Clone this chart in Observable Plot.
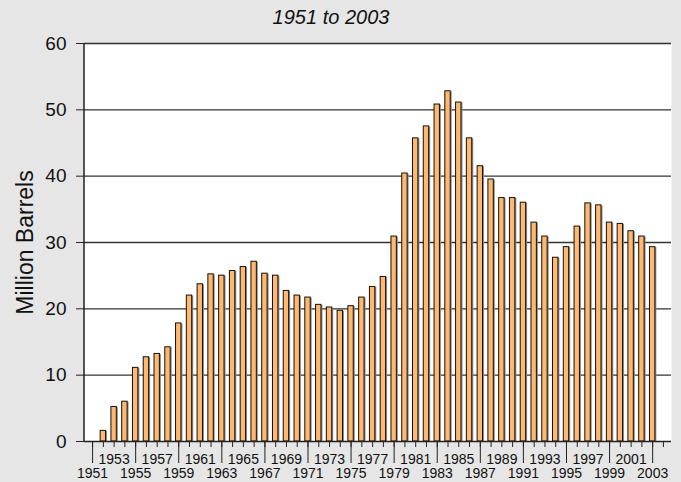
<!DOCTYPE html>
<html>
<head>
<meta charset="utf-8">
<script src="https://cdn.jsdelivr.net/npm/d3@7"></script>
<script src="https://cdn.jsdelivr.net/npm/@observablehq/plot@0.6"></script>
<style>
  html, body { margin: 0; padding: 0; background: #e6e6e6; }
  #chart { width: 681px; height: 482px; overflow: hidden; }
  svg { display: block; }
</style>
</head>
<body>
<div id="chart"></div>
<script>
// ---- data ----
const years = [1952,1953,1954,1955,1956,1957,1958,1959,1960,1961,1962,1963,1964,1965,1966,1967,1968,1969,1970,1971,1972,1973,1974,1975,1976,1977,1978,1979,1980,1981,1982,1983,1984,1985,1986,1987,1988,1989,1990,1991,1992,1993,1994,1995,1996,1997,1998,1999,2000,2001,2002,2003];
const barrels = [1.6,5.2,6.0,11.1,12.7,13.2,14.2,17.8,22.0,23.7,25.2,25.0,25.7,26.3,27.1,25.3,25.0,22.7,22.0,21.7,20.6,20.2,19.7,20.4,21.7,23.3,24.8,30.9,40.4,45.7,47.5,50.8,52.8,51.1,45.7,41.5,39.5,36.7,36.7,36.0,33.0,30.9,27.7,29.3,32.4,35.9,35.6,33.0,32.8,31.7,30.9,29.3];
const axisYears = [1951,1952,1953,1954,1955,1956,1957,1958,1959,1960,1961,1962,1963,1964,1965,1966,1967,1968,1969,1970,1971,1972,1973,1974,1975,1976,1977,1978,1979,1980,1981,1982,1983,1984,1985,1986,1987,1988,1989,1990,1991,1992,1993,1994,1995,1996,1997,1998,1999,2000,2001,2002,2003,2004];
const lowerLabels = [1951,1955,1959,1963,1967,1971,1975,1979,1983,1987,1991,1995,1999,2003];
const upperLabels = [1953,1957,1961,1965,1969,1973,1977,1981,1985,1989,1993,1997,2001];
const yTicks = [0,10,20,30,40,50,60];
const gridTicks = [10,20,30,40,50,60];
const title = "1951 to 2003";
const yLabel = "Million Barrels";

const data = years.map((y, i) => ({year: y, value: barrels[i]}));

const FONT = "'Liberation Sans', Arial, sans-serif";
const NARROW = "'Liberation Sans Narrow', 'Liberation Sans', Arial, sans-serif";

// left axis line drawn from frame dimensions
function leftLine(index, scales, values, dims) {
  const g = d3.create("svg:line")
    .attr("x1", dims.marginLeft).attr("x2", dims.marginLeft)
    .attr("y1", dims.marginTop).attr("y2", dims.height - dims.marginBottom)
    .attr("stroke", "#222").attr("stroke-width", 1.5);
  return g.node();
}

const chart = Plot.plot({
  width: 681,
  height: 482,
  marginLeft: 84,
  marginRight: 10,
  marginTop: 43,
  marginBottom: 41,
  style: {background: "#e6e6e6", fontFamily: FONT, color: "#111"},
  x: {type: "band", domain: axisYears, padding: 0.5, align: 0.5},
  y: {domain: [0, 60]},
  marks: [
    Plot.frame({fill: "white", stroke: null}),
    Plot.ruleY(gridTicks, {stroke: "#333", strokeWidth: 1.3}),
    Plot.barY(data, {x: "year", y: "value", fill: "#8c8c8c", dx: 1.5, dy: 0.5}),
    Plot.barY(data, {x: "year", y: "value", fill: "#ffb86e", stroke: "#111", strokeWidth: 1}),
    Plot.ruleY([0], {stroke: "#222", strokeWidth: 1.5}),
    leftLine,
    Plot.axisY({ticks: yTicks, tickSize: 8, tickPadding: 10, fontSize: 19, label: null, stroke: "#222"}),
    Plot.axisX({ticks: axisYears, tickSize: 6, tickFormat: () => "", label: null, stroke: "#222"}),
    Plot.axisX({ticks: lowerLabels, tickSize: 22, tickPadding: 5, fontSize: 14, fontFamily: NARROW, tickFormat: d => String(d), label: null, stroke: "#222"}),
    Plot.axisX({ticks: upperLabels, tickSize: 0, tickPadding: 13, fontSize: 14, fontFamily: NARROW, tickFormat: d => String(d), label: null}),
    Plot.text([yLabel], {frameAnchor: "left", dx: -59, rotate: -90, fontSize: 23, textAnchor: "middle", lineAnchor: "middle", fill: "#111"}),
    Plot.text([title], {frameAnchor: "top", dx: -47, dy: -26, fontSize: 20, fontStyle: "italic", textAnchor: "middle", lineAnchor: "middle", fill: "#111"})
  ]
});
document.getElementById("chart").appendChild(chart);
</script>
</body>
</html>
